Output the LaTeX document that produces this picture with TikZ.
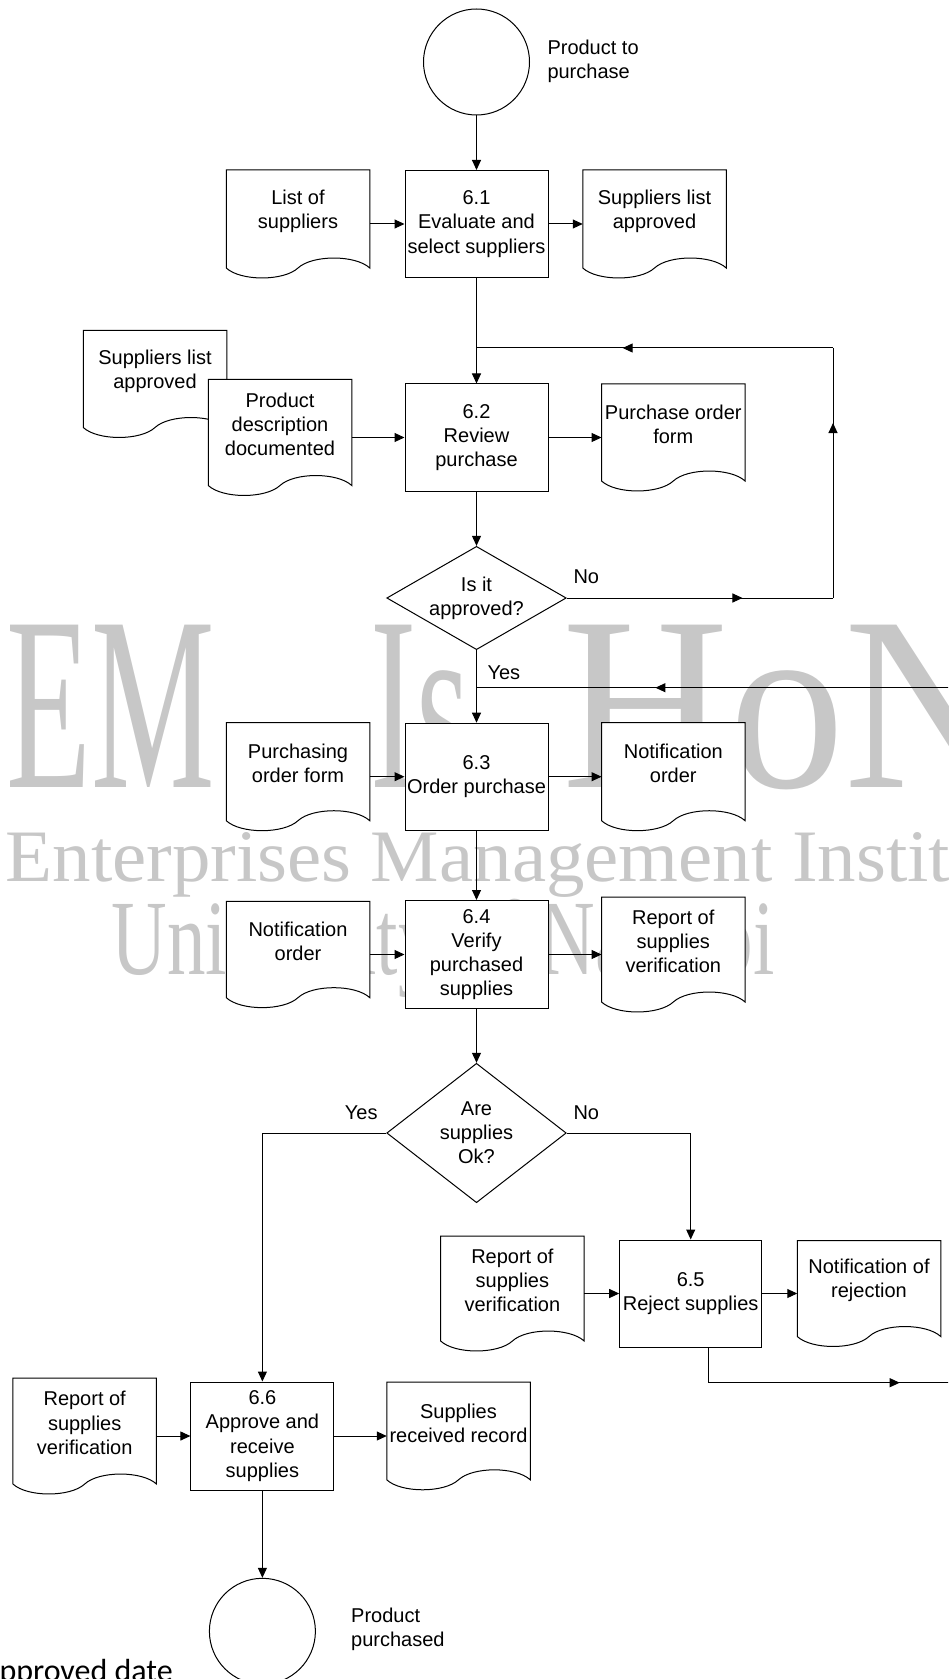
\documentclass[tikz,border=0pt]{standalone}
\usepackage{fontspec}
\setmainfont{Liberation Sans}
\newfontfamily\wmfont{Liberation Serif}
\newfontfamily\notefont{Carlito}
\usetikzlibrary{shapes.geometric, arrows.meta, calc, decorations.markings}

\tikzset{
  proc/.style={draw, fill=white, minimum width=71.5pt, minimum height=53.5pt, inner sep=0pt, align=center},
  doc/.style={minimum width=71.25pt, minimum height=53.5pt, inner sep=0pt},
  doctext/.style={align=center, inner sep=0pt},
  dec/.style={draw, fill=white, shape=diamond, minimum width=89.75pt, minimum height=51.65pt, aspect=1.74, inner sep=0pt, align=center},
  term/.style={draw, fill=white, circle, minimum size=53pt, inner sep=0pt},
  lbl/.style={inner sep=0pt, align=left},
  arr/.style={-{Triangle[length=5pt, width=4.5pt]}},
  marr/.style={postaction={decorate}, decoration={markings, mark=at position #1 with {\arrow{Triangle[length=5pt, width=4.5pt]}}}},
  marr/.default=0.65,
  wm/.style={inner sep=0pt, anchor=base west, text=black!22}
}

% document symbol with wavy bottom, then its text
\newcommand{\docshape}[2]{%
  \filldraw[fill=white] ($(#1.south east)+(0,-10)$) -- (#1.north east) -- (#1.north west)
    -- ($(#1.south west)+(0,-10)$)
    .. controls ($(#1.south west)!0.1!(#1.south east)+(0,3.3)$) and ($(#1.south west)!0.4!(#1.south east)+(0,3.3)$)
    .. ($(#1.south west)!0.5!(#1.south east)+(0,-10)$)
    .. controls ($(#1.south west)!0.6!(#1.south east)+(0,-23.3)$) and ($(#1.south west)!0.9!(#1.south east)+(0,-23.3)$)
    .. ($(#1.south east)+(0,-10)$) -- cycle;
  \node[doctext] (#1tx) at ([yshift=6.5pt]#1.center) {#2};
}

\begin{document}
\begin{tikzpicture}[x=0.5pt, y=-0.5pt, line width=0.5pt, font=\fontsize{10}{12.1}\selectfont]
\useasboundingbox (0,0) rectangle (948,1679);
\clip (0,0) rectangle (948,1679);

% watermark
\node[wm, font=\wmfont\fontsize{124}{124}\selectfont] (wm1) at (6,787) {\scalebox{0.56}[1]{EM}};
\node[wm, font=\wmfont\fontsize{124}{124}\selectfont] (wm2) at (370,787) {\scalebox{0.56}[1]{Is}};
\node[wm, font=\wmfont\fontsize{124}{124}\selectfont] (wm3) at (562,787) {\scalebox{0.93}[1]{HoN}};
\node[wm, font=\wmfont\fontsize{37}{37}\selectfont] (wm4) at (5,881.7) {\scalebox{1.04}[1]{Enterprises Management Instit}};
\node[wm, font=\wmfont\fontsize{53.5}{53.5}\selectfont] (wm5) at (111,974) {\scalebox{0.72}[1]{University of Nairobi}};

% start
\node[term] (st) at (476.5,62) {};
\node[lbl, anchor=west] (sttx) at (547,61) {Product to\\purchase};

% 6.1
\node[proc] (p61) at (476.5,224) {6.1\\Evaluate and\\select suppliers};
\node[doc] (lst) at (298,224) {};
\node[doc] (sla) at (654.5,224) {};
\docshape{lst}{List of\\suppliers}
\docshape{sla}{Suppliers list\\approved}

% 6.2
\node[proc] (p62) at (476.5,437.5) {6.2\\Review\\purchase};
\node[doc, minimum height=53pt] (slb) at (155,384) {};
\node[doc, minimum height=57.5pt] (pdd) at (280,437.5) {};
\node[doc, minimum height=53pt] (pof) at (673.3,437.5) {};
\docshape{slb}{Suppliers list\\approved}
\docshape{pdd}{Product\\description\\documented}
\docshape{pof}{Purchase order\\form}

% is it approved
\node[dec] (d1) at (476.5,598) {Is it\\approved?};
\node[lbl, anchor=west] (no1) at (573,577) {No};
\node[lbl, anchor=west] (yes1) at (487,672.3) {Yes};

% 6.3
\node[proc] (p63) at (476.5,776.7) {6.3\\Order purchase};
\node[doc] (pur) at (298,776.7) {};
\node[doc] (nto) at (673.3,776.7) {};
\docshape{pur}{Purchasing\\order form}
\docshape{nto}{Notification\\order}

% 6.4
\node[proc, minimum height=54pt] (p64) at (476.5,954.5) {6.4\\Verify\\purchased\\supplies};
\node[doc, minimum height=52.65pt] (ntl) at (298,954.5) {};
\node[doc, minimum height=57pt] (rsv) at (673.3,954.5) {};
\docshape{ntl}{Notification\\order}
\docshape{rsv}{Report of\\supplies\\verification}

% are supplies ok
\node[dec, minimum height=69.7pt, aspect=1.29] (d2) at (476.5,1133) {Are\\supplies\\Ok?};
\node[lbl, anchor=east] (yes2) at (378,1113) {Yes};
\node[lbl, anchor=west] (no2) at (573,1113) {No};

% 6.5
\node[proc, minimum width=71pt] (p65) at (690.7,1293.5) {6.5\\Reject supplies};
\node[doc, minimum height=57pt] (rsa) at (512.4,1293.5) {};
\node[doc, minimum height=52.5pt] (nrj) at (869,1293.5) {};
\docshape{rsa}{Report of\\supplies\\verification}
\docshape{nrj}{Notification of\\rejection}

% 6.6
\node[proc, minimum height=54pt] (p66) at (262.4,1436) {6.6\\Approve and\\receive\\supplies};
\node[doc, minimum height=57.5pt] (rsb) at (84.7,1436) {};
\node[doc, minimum height=53.3pt] (srr) at (458.5,1436) {};
\docshape{rsb}{Report of\\supplies\\verification}
\docshape{srr}{Supplies\\received record}

% end
\node[term] (en) at (262.4,1631.3) {};
\node[lbl, anchor=west] (entx) at (350.7,1629) {Product\\purchased};
\node[inner sep=0pt, anchor=base west, font=\notefont\fontsize{16}{16}\selectfont] (apd) at (-1,1681) {pproved date};

% flow
\draw[arr] (st) -- (p61);
\draw[arr] (lst) -- (p61);
\draw[arr] (p61) -- (sla);
\draw[arr] (p61) -- (p62);
\draw[arr] (pdd) -- (p62);
\draw[arr] (p62) -- (pof);
\draw[arr] (p62) -- (d1);
\draw[arr] (d1) -- (p63);
\draw[arr] (pur) -- (p63);
\draw[arr] (p63) -- (nto);
\draw[arr] (p63) -- (p64);
\draw[arr] (ntl) -- (p64);
\draw[arr] (p64) -- (rsv);
\draw[arr] (p64) -- (d2);
\draw[arr] (d2.west) -| (p66.north);
\draw[arr] (d2.east) -| (p65.north);
\draw[arr] (rsa) -- (p65);
\draw[arr] (p65) -- (nrj);
\draw[arr] (rsb) -- (p66);
\draw[arr] (p66) -- (srr);
\draw[arr] (p66) -- (en);

% not approved: back to review
\coordinate (nr1) at (833,598);
\coordinate (nt1) at (833,348);
\coordinate (jn1) at (476.5,348);
\draw[marr=0.66] (d1.east) -- (nr1);
\draw[marr=0.7] (nr1) -- (nt1);
\draw[marr=0.59] (nt1) -- (jn1);

% rejected: back to ordering
\coordinate (rt1) at (708.7,1382.7);
\coordinate (rt2) at (960,1382.7);
\coordinate (rt3) at (960,687.7);
\coordinate (jn2) at (476.5,687.7);
\draw ([xshift=9pt]p65.south) -- (rt1);
\draw[marr=0.76] (rt1) -- (rt2);
\draw (rt2) -- (rt3);
\draw[marr=0.63] (rt3) -- (jn2);
\end{tikzpicture}
\end{document}
